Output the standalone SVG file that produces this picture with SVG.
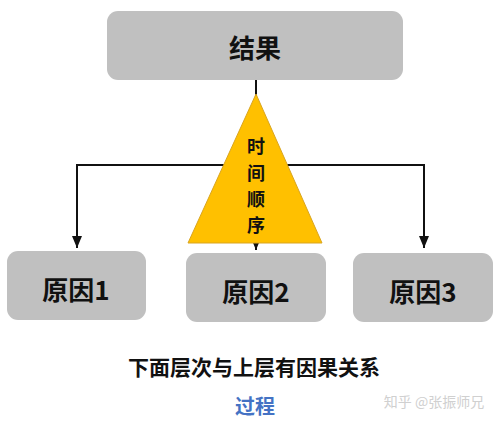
<svg xmlns="http://www.w3.org/2000/svg" width="500" height="422" viewBox="0 0 500 422">
<style>
.box{fill:#c0c0c0;}
.lbl{font-family:"Noto Sans CJK SC","Liberation Sans",sans-serif;font-weight:bold;fill:#111;text-anchor:middle;dominant-baseline:central;}
.ln{fill:none;stroke:#111;stroke-width:2;}
</style>
<defs>
<marker id="arr" viewBox="0 0 12 10" refX="12" refY="5" markerWidth="12" markerHeight="10" orient="auto" markerUnits="userSpaceOnUse">
<path d="M0,0 L12,5 L0,10 z" fill="#111"/>
</marker>
</defs>
<rect width="500" height="422" fill="#ffffff"/>
<g id="connectors">
<line class="ln" x1="256" y1="80" x2="256" y2="96"/>
<polyline class="ln" points="240,165 77,165 77,248" marker-end="url(#arr)"/>
<polyline class="ln" points="270,165 424,165 424,248" marker-end="url(#arr)"/>
<line class="ln" x1="256" y1="236" x2="256" y2="250" marker-end="url(#arr)"/>
</g>
<g id="time-order">
<polygon points="256,94 188,243 322,243" fill="#ffc000" stroke="#d9a520" stroke-width="1"/>
<text class="lbl" x="256" y="145" font-size="18">时</text>
<text class="lbl" x="256" y="172" font-size="18">间</text>
<text class="lbl" x="256" y="198" font-size="18">顺</text>
<text class="lbl" x="256" y="224" font-size="18">序</text>
</g>
<g id="result">
<rect class="box" x="107" y="11" width="296" height="69" rx="11"/>
<text class="lbl" x="255" y="46" font-size="26">结果</text>
</g>
<g id="cause1">
<rect class="box" x="7" y="251" width="139" height="69" rx="11"/>
<text class="lbl" x="76" y="288" font-size="26">原因1</text>
</g>
<g id="cause2">
<rect class="box" x="186" y="253" width="140" height="69" rx="11"/>
<text class="lbl" x="256" y="290" font-size="26">原因2</text>
</g>
<g id="cause3">
<rect class="box" x="353" y="253" width="140" height="69" rx="11"/>
<text class="lbl" x="423" y="290" font-size="26">原因3</text>
</g>
<g id="caption">
<text class="lbl" x="254" y="366" font-size="21">下面层次与上层有因果关系</text>
<text class="lbl" x="255" y="405" font-size="20" style="fill:#4472c4">过程</text>
<text x="434" y="401" font-size="14" fill="#d0d0d0" text-anchor="middle" dominant-baseline="central" font-family="Noto Sans CJK SC, sans-serif">知乎 @张振师兄</text>
</g>
</svg>
